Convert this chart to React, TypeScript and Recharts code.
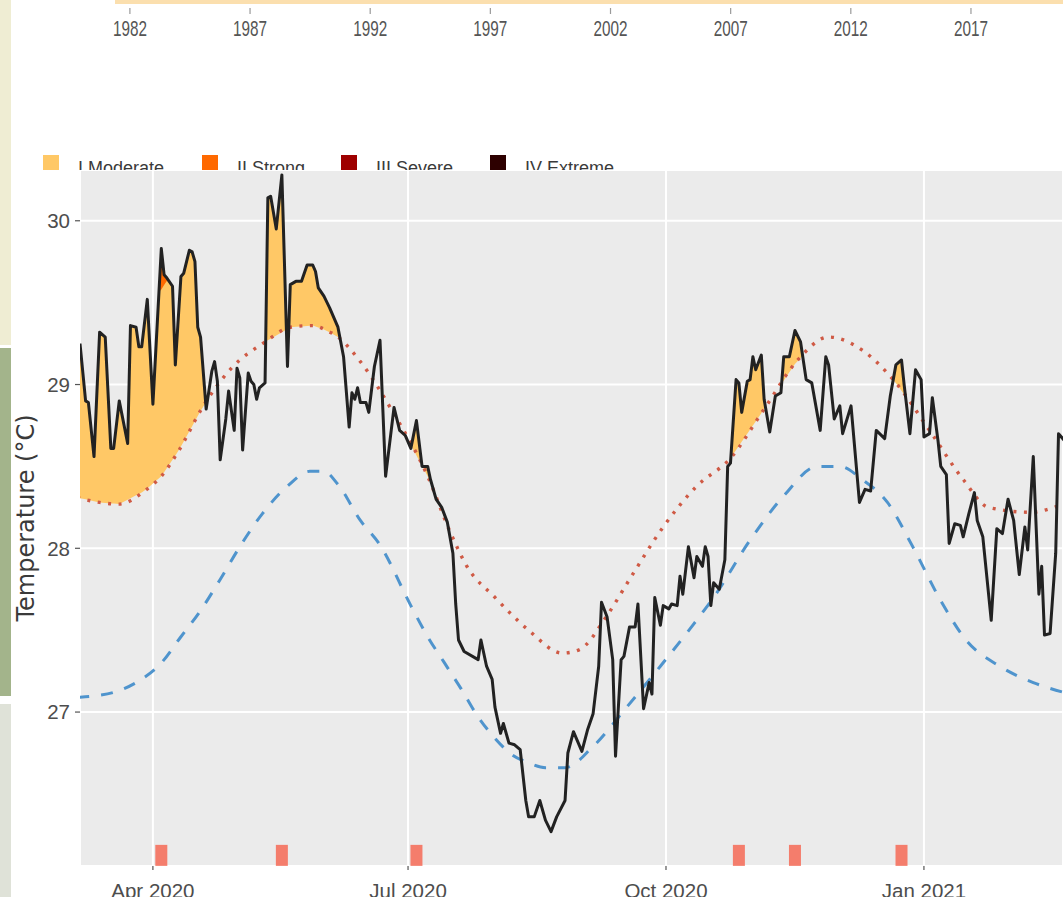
import React from 'react';
import {
  ComposedChart,
  Line,
  Area,
  Scatter,
  XAxis,
  YAxis,
  CartesianGrid,
  Label,
} from 'recharts';

// Daily sea surface temperature (°C); day 0 = 1 Apr 2020
const sst: [number, number][] = [
  [-26, 29.25], [-24, 28.9], [-23, 28.89], [-21, 28.56], [-19, 29.32], [-17, 29.29],
  [-15, 28.61], [-14, 28.61], [-12, 28.9], [-9, 28.64], [-8, 29.36], [-6, 29.35],
  [-5, 29.23], [-4, 29.23], [-2, 29.52], [0, 28.88], [3, 29.83], [4, 29.67],
  [5, 29.65], [7, 29.6], [8, 29.12], [10, 29.66], [11, 29.68], [13, 29.82],
  [14, 29.81], [15, 29.75], [16, 29.35], [17, 29.29], [19, 28.85], [21, 29.08],
  [22, 29.14], [23, 29.02], [24, 28.54], [26, 28.79], [27, 28.96], [29, 28.72],
  [30, 29.1], [31, 29.04], [32, 28.6], [34, 29.07], [35, 29.02], [36, 29.0],
  [37, 28.91], [38, 28.98], [40, 29.01], [41, 30.14], [42, 30.15], [44, 29.95],
  [46, 30.28], [48, 29.11], [49, 29.61], [51, 29.63], [53, 29.63], [55, 29.73],
  [57, 29.73], [58, 29.69], [59, 29.59], [61, 29.54], [63, 29.47], [66, 29.35],
  [68, 29.17], [70, 28.74], [71, 28.95], [72, 28.91], [73, 28.98], [74, 28.89],
  [76, 28.89], [77, 28.83], [79, 29.11], [81, 29.27], [83, 28.44], [84, 28.58],
  [86, 28.86], [88, 28.72], [90, 28.69], [92, 28.61], [94, 28.78], [96, 28.5],
  [98, 28.5], [99, 28.42], [101, 28.3], [103, 28.25], [105, 28.16], [107, 27.97],
  [108, 27.66], [109, 27.44], [111, 27.37], [116, 27.32], [117, 27.44], [119, 27.28],
  [121, 27.2], [122, 27.03], [124, 26.87], [125, 26.93], [127, 26.81], [129, 26.8],
  [131, 26.77], [133, 26.46], [134, 26.36], [136, 26.36], [138, 26.46], [140, 26.34],
  [142, 26.27], [144, 26.36], [147, 26.46], [148, 26.75], [150, 26.88], [153, 26.76],
  [155, 26.89], [157, 26.99], [159, 27.28], [160, 27.67], [162, 27.58], [164, 27.32],
  [165, 26.73], [167, 27.32], [168, 27.34], [170, 27.52], [172, 27.52], [173, 27.66],
  [175, 27.02], [177, 27.18], [178, 27.11], [179, 27.7], [181, 27.53], [182, 27.65],
  [184, 27.63], [185, 27.66], [187, 27.65], [188, 27.83], [189, 27.72], [191, 28.01],
  [193, 27.82], [194, 27.95], [196, 27.89], [197, 28.01], [198, 27.95], [199, 27.65],
  [200, 27.79], [202, 27.75], [204, 27.93], [205, 28.5], [206, 28.52], [208, 29.03],
  [209, 29.01], [210, 28.83], [212, 29.02], [213, 29.03], [214, 29.17], [215, 29.09],
  [217, 29.18], [218, 28.91], [220, 28.71], [222, 28.93], [224, 28.95], [225, 29.17],
  [227, 29.17], [229, 29.33], [231, 29.26], [233, 29.03], [235, 29.01], [238, 28.72],
  [240, 29.17], [241, 29.12], [243, 28.79], [245, 28.87], [246, 28.7], [249, 28.87],
  [252, 28.28], [254, 28.36], [256, 28.35], [258, 28.72], [261, 28.67], [263, 28.93],
  [265, 29.12], [267, 29.15], [268, 28.99], [270, 28.7], [272, 29.09], [274, 29.03],
  [275, 28.68], [277, 28.7], [278, 28.92], [280, 28.66], [281, 28.5], [283, 28.45],
  [284, 28.03], [286, 28.15], [288, 28.14], [289, 28.07], [291, 28.21], [293, 28.34],
  [294, 28.17], [296, 28.07], [299, 27.56], [301, 28.12], [303, 28.09], [305, 28.3],
  [307, 28.17], [309, 27.84], [311, 28.13], [312, 27.99], [314, 28.56], [316, 27.72],
  [317, 27.89], [318, 27.47], [320, 27.48], [322, 27.97], [323, 28.7], [325, 28.66],
];

// 90th percentile threshold (°C)
const threshold: [number, number][] = [
  [-27, 28.31], [-19, 28.28], [-12, 28.27], [-3, 28.35], [3, 28.44], [9, 28.59],
  [18, 28.87], [28, 29.1], [40, 29.26], [49, 29.35], [57, 29.36], [62, 29.33],
  [66, 29.29], [74, 29.14], [86, 28.82], [98, 28.44], [106, 28.1], [112, 27.89],
  [122, 27.7], [134, 27.5], [146, 27.36], [152, 27.38], [162, 27.59], [170, 27.81],
  [182, 28.13], [194, 28.38], [206, 28.55], [218, 28.85], [230, 29.15], [241, 29.29],
  [253, 29.21], [265, 29.01], [277, 28.72], [289, 28.42], [298, 28.25], [313, 28.22],
  [325, 28.27], [330, 28.3],
];

// Seasonal climatology (°C)
const climatology: [number, number][] = [
  [-27, 27.09], [-20, 27.1], [-14, 27.12], [-5, 27.19], [3, 27.3], [10, 27.46],
  [17, 27.62], [24, 27.81], [31, 28.01], [39, 28.21], [48, 28.38], [56, 28.47],
  [61, 28.47], [66, 28.39], [74, 28.17], [81, 28.02], [92, 27.65], [98, 27.46],
  [104, 27.3], [110, 27.14], [116, 26.97], [122, 26.84], [128, 26.74], [134, 26.69],
  [140, 26.66], [147, 26.66], [157, 26.79], [169, 27.03], [181, 27.28], [193, 27.54],
  [200, 27.7], [213, 28.05], [225, 28.32], [237, 28.5], [245, 28.5], [253, 28.42],
  [262, 28.28], [271, 28.01], [281, 27.68], [290, 27.44], [302, 27.28], [314, 27.18],
  [325, 27.12], [330, 27.1],
];

// Marine heatwave events: [start day, end day, peak day]
const events: [number, number, number][] = [
  [-27, 19, 3], [40, 69, 46], [90, 107, 94], [204, 219, 209], [221, 234, 229], [262, 270, 267],
];

const monthTickDays = [0, 91, 183, 275];
const monthTickLabels = ['Apr 2020', 'Jul 2020', 'Oct 2020', 'Jan 2021'];
const tempTicks = [27, 28, 29, 30];
const yearTicks = [1982, 1987, 1992, 1997, 2002, 2007, 2012, 2017];

const categoryNames = ['I Moderate', 'II Strong', 'III Severe', 'IV Extreme'];
const categoryColors = ['#ffc866', '#ff6900', '#9e0000', '#2d0000'];

const interp = (series: [number, number][], d: number) => {
  for (let i = 0; i < series.length - 1; i++) {
    const [d0, v0] = series[i];
    const [d1, v1] = series[i + 1];
    if (d >= d0 && d <= d1) return v0 + ((v1 - v0) * (d - d0)) / (d1 - d0);
  }
  return series[series.length - 1][1];
};

const thrAt = (d: number) => interp(threshold, d);
const climAt = (d: number) => interp(climatology, d);
// category II starts at twice the threshold-climatology distance
const strongAt = (d: number) => climAt(d) + 2 * (thrAt(d) - climAt(d));

// band between a category level and the temperature, limited to one event
const flame = (start: number, end: number, level: (d: number) => number) => {
  const pts = sst.filter(([d]) => d >= start && d <= end);
  const out: { day: number; band: [number, number] }[] = [];
  pts.forEach(([d, t], i) => {
    const l = level(d);
    if (i > 0) {
      const [pd, pt] = pts[i - 1];
      const a = pt - level(pd);
      const b = t - l;
      if (a * b < 0) {
        const f = a / (a - b);
        const ct = pt + (t - pt) * f;
        out.push({ day: pd + (d - pd) * f, band: [ct, ct] });
      }
    }
    out.push({ day: d, band: [l, Math.max(t, l)] });
  });
  return out;
};

const sstData = sst.map(([day, v]) => ({ day, v }));
const thrData = threshold.map(([day, v]) => ({ day, v }));
const climData = climatology.map(([day, v]) => ({ day, v }));
const rugData = events.map(([, , peak]) => ({ day: peak, rug: 26.125 }));

const tickFont = 'Liberation Sans, Arial, sans-serif';

const RugMark = (props: any) => {
  const { cx, cy } = props;
  return <rect x={cx - 6} y={cy - 10.5} width={12} height={21} fill="#f47d6c" />;
};

const YearTick = (props: any) => {
  const { x, y, payload } = props;
  return (
    <g>
      <line x1={x} x2={x} y1={y + 6} y2={y + 12} stroke="#9a9a9a" strokeWidth={1.2} />
      <text
        x={x}
        y={y + 34}
        textAnchor="middle"
        fill="#555555"
        fontSize={22}
        fontFamily={tickFont}
        textLength={34}
        lengthAdjust="spacingAndGlyphs"
      >
        {payload.value}
      </text>
    </g>
  );
};

const strip = (top: number, height: number, color: string): React.CSSProperties => ({
  position: 'absolute',
  left: 0,
  top,
  width: 11,
  height,
  background: color,
});

export default function App() {
  const legendX = [43, 202, 341, 490];
  return (
    <div
      style={{
        position: 'absolute',
        left: 0,
        top: 0,
        width: 1063,
        height: 897,
        overflow: 'hidden',
        background: '#ffffff',
      }}
    >
      <div style={strip(0, 345, '#efedd3')} />
      <div style={strip(348, 348, '#a3b48b')} />
      <div style={strip(704, 193, '#dfe2d8')} />

      {/* long-term timeline axis */}
      <div style={{ position: 'absolute', left: 0, top: 0 }}>
        <ComposedChart
          width={1063}
          height={45}
          data={yearTicks.map((year) => ({ year }))}
          margin={{ top: 0, right: 0, bottom: 0, left: 115 }}
        >
          <XAxis
            dataKey="year"
            type="number"
            domain={[1981.38, 2020.83]}
            ticks={yearTicks}
            interval={0}
            height={43}
            tickSize={0}
            tickMargin={0}
            tickLine={false}
            axisLine={{ stroke: '#fbdfae', strokeWidth: 4 }}
            tick={<YearTick />}
          />
          <YAxis hide />
        </ComposedChart>
      </div>

      {/* category legend */}
      <svg
        width={700}
        height={40}
        style={{ position: 'absolute', left: 0, top: 140 }}
      >
        {categoryNames.map((name, i) => (
          <g key={name}>
            <rect x={legendX[i]} y={15} width={16} height={16} fill={categoryColors[i]} />
            <text
              x={legendX[i] + 35}
              y={34}
              fontSize={18}
              fontFamily={tickFont}
              fill="#3a3a3a"
            >
              {name}
            </text>
          </g>
        ))}
      </svg>

      {/* event line */}
      <div
        style={{
          position: 'absolute',
          left: 12,
          top: 170,
          width: 1051,
          height: 727,
          background: '#ffffff',
        }}
      >
        <ComposedChart
          width={1051}
          height={727}
          margin={{ top: 0, right: 0, bottom: 0, left: 0 }}
        >
          <CartesianGrid fill="#ebebeb" stroke="#ffffff" strokeWidth={2} />
          <XAxis
            dataKey="day"
            type="number"
            domain={[-26, 324.6]}
            allowDataOverflow
            ticks={monthTickDays}
            interval={0}
            tickFormatter={(d: number) => monthTickLabels[monthTickDays.indexOf(d)]}
            height={31}
            tickSize={4}
            tickMargin={13}
            axisLine={false}
            tickLine={{ stroke: '#555555', strokeWidth: 1.2 }}
            tick={{ fill: '#4d4d4d', fontSize: 20.5, fontFamily: tickFont }}
          />
          <YAxis
            type="number"
            domain={[26.06, 30.31]}
            allowDataOverflow
            ticks={tempTicks}
            interval={0}
            width={68}
            tickSize={5}
            tickMargin={5}
            axisLine={false}
            tickLine={{ stroke: '#555555', strokeWidth: 1.2 }}
            tick={{ fill: '#4d4d4d', fontSize: 20.5, fontFamily: tickFont }}
          >
            <Label
              value="Temperature (°C)"
              angle={-90}
              position="insideLeft"
              offset={13}
              style={{
                textAnchor: 'middle',
                fontSize: 24,
                fontFamily: 'DejaVu Sans, sans-serif',
                fill: '#3a3a3a',
              }}
            />
          </YAxis>

          {events.map(([s, e]) => (
            <Area
              key={`mod-${s}`}
              data={flame(s, e, thrAt)}
              dataKey="band"
              type="linear"
              stroke="none"
              fill={categoryColors[0]}
              fillOpacity={1}
              isAnimationActive={false}
            />
          ))}
          {events.map(([s, e]) => (
            <Area
              key={`str-${s}`}
              data={flame(s, e, strongAt)}
              dataKey="band"
              type="linear"
              stroke="none"
              fill={categoryColors[1]}
              fillOpacity={1}
              isAnimationActive={false}
            />
          ))}

          <Line
            data={climData}
            dataKey="v"
            type="monotone"
            stroke="#4f94cd"
            strokeWidth={3}
            strokeDasharray="12 12"
            dot={false}
            isAnimationActive={false}
          />
          <Line
            data={thrData}
            dataKey="v"
            type="monotone"
            stroke="#cf5a45"
            strokeWidth={3.4}
            strokeDasharray="3 7.5"
            dot={false}
            isAnimationActive={false}
          />
          <Line
            data={sstData}
            dataKey="v"
            type="linear"
            stroke="#222222"
            strokeWidth={3}
            strokeLinejoin="round"
            dot={false}
            isAnimationActive={false}
          />
          <Scatter
            data={rugData}
            dataKey="rug"
            shape={<RugMark />}
            isAnimationActive={false}
          />
        </ComposedChart>
      </div>
    </div>
  );
}
